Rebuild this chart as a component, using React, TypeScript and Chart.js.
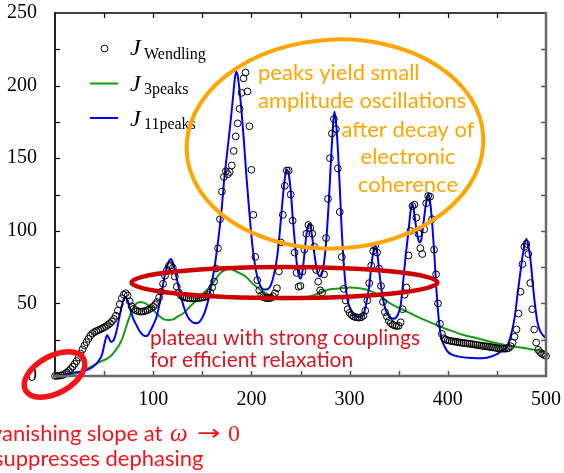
import { useEffect, useRef } from "react";
import { Chart, registerables } from "chart.js";

Chart.register(...registerables);

// ---------- axes ----------
const X_MIN = 0;
const X_MAX = 500;
const Y_MIN = 0;
const Y_MAX = 250;
const X_TICK_STEP = 50;
const X_LABEL_STEP = 100;
const Y_TICK_STEP = 25;
const Y_LABEL_STEP = 50;

// ---------- J_Wendling (open circles), sampled every 2 units from x = 0 ----------
const WENDLING_X_START = 0;
const WENDLING_X_STEP = 2;
const WENDLING_Y = [
  0, 0.1, 0.2, 0.4, 0.7, 1.4, 2.4, 3.5, 4.8, 6.4,
  8.3, 10.3, 12.8, 15.5, 18.3, 21, 23.3, 25.6, 27.7, 29.2,
  30.2, 30.9, 31.5, 32.1, 32.8, 33.5, 34.3, 35.2, 36.3, 37.6,
  39.3, 41.5, 45, 49.5, 53.5, 56, 57, 55.5, 51.5, 48,
  46.3, 45.3, 44.7, 44.4, 44.3, 44.5, 44.8, 45.3, 46, 46.8,
  47.8, 49.3, 51, 54, 58, 63.5, 69, 73, 75.8, 76.2,
  74.5, 68.5, 61.5, 57.5, 55.5, 54.6, 54.1, 53.8, 53.6, 53.5,
  53.5, 53.5, 53.6, 53.7, 53.8, 54, 54.3, 54.8, 55.7, 57.5,
  61, 65, 74, 88, 108, 127, 137, 141, 139, 140.5,
  145, 155, 165, 174, 184, 195, 205, 209, 196, 172,
  142, 111, 82, 66, 59, 55.5, 54.3, 53.8, 53.6, 53.6,
  53.8, 55, 57, 60.5, 72, 92, 111, 131, 141.5, 141.5,
  125, 107, 85, 71, 61.5, 62, 72, 87, 98, 104,
  102, 98, 89, 73, 65, 59, 57.5, 70, 95, 122,
  150, 167, 177, 170, 143, 113, 82, 60, 52, 46,
  43.5, 42, 41, 40.5, 40.3, 40.2, 40.5, 41.5, 45, 52,
  64, 76, 86, 89.5, 85, 74, 62, 51, 44, 41,
  38, 36.3, 35.3, 34.7, 34.4, 34.6, 37, 46, 56, 61,
  83, 100, 117, 118, 109, 98, 88, 84, 101, 119,
  124, 123.5, 108, 87, 70, 50, 36, 29, 26, 25,
  24.6, 24.3, 24, 23.8, 23.6, 23.4, 23.1, 22.9, 22.7, 22.6,
  22.4, 22.2, 22, 21.8, 21.6, 21.3, 21.1, 20.9, 20.7, 20.5,
  20.3, 20.1, 19.9, 19.7, 19.5, 19.2, 19, 18.9, 18.8, 18.8,
  18.9, 19.3, 20.5, 23, 27, 32, 43, 58, 77, 89,
  91, 84, 64, 46, 32, 23, 18, 16.4, 15.2, 14.5,
  13.8,
];

// ---------- J_3peaks (green line) ----------
const PEAKS3_X = [
  0, 15, 25, 35.6, 45, 56, 62, 68, 74.7, 78, 81.5, 86.6, 92, 96.8, 102, 107, 111,
  115.4, 120.5, 125, 130.7, 137, 144.3, 151, 158, 164, 168, 173, 178.3, 183, 188.5,
  195, 200, 205, 210, 216, 224, 232, 240, 249.6, 258, 265, 271.7, 280, 290, 300, 310,
  320, 330, 341.3, 350, 361.7, 375, 388.8, 400, 416, 430, 450, 465, 480.5, 500,
];
const PEAKS3_Y = [
  0, 0.7, 2.5, 6, 9.5, 13.3, 18, 24.8, 38.5, 44.5, 49, 51, 50, 47.7, 44, 40.8, 39,
  38.5, 39, 41, 43.2, 47.5, 52.3, 57, 61.5, 67, 70.7, 73, 73.8, 72.5, 70.7,
  68, 64.5, 61.5, 59, 56.5, 53.5, 52.8, 53, 53, 54.5, 56, 58, 59.8, 60.3, 61, 60.5,
  59, 55.5, 50, 47, 43.2, 39, 35.1, 32, 28.2, 26, 22.5, 20.5, 19, 16.7,
];

// ---------- J_11peaks (blue line) ----------
const PEAKS11_X = [
  0, 10, 20, 30, 38, 44, 48, 51, 53, 55, 57, 60, 63, 66, 69, 71.5, 74, 77, 80, 83,
  87, 90, 93.5, 97, 100, 104, 107, 110, 113, 116, 118, 120, 123, 127, 131, 135, 140,
  144, 148, 152, 156, 159, 162, 165, 168, 170, 172, 175, 178, 181, 183, 184.5, 186,
  188, 190, 192, 195, 198, 201, 204, 207, 210, 213, 217, 220, 223, 226, 229, 232,
  234, 236, 238, 240, 242, 244, 246, 248, 250, 252, 254, 256, 258, 259.5, 261, 263,
  265, 267, 270, 272, 275, 277, 279, 281, 283, 284.5, 286, 288, 290, 292, 294, 296,
  298, 300, 303, 306, 310, 314, 317, 320, 322, 324, 326, 328, 330, 332, 334, 337,
  341, 345, 349, 352, 355, 357, 360, 362, 363.5, 365, 367, 369, 371, 373, 375, 377,
  379, 380.5, 382, 384, 386, 388, 390, 392, 394, 397, 400, 405, 410, 420, 430, 440,
  450, 455, 460, 465, 468, 471, 474, 477, 480, 483, 485, 487, 489, 491, 494, 497, 500,
];
const PEAKS11_Y = [
  0, 1, 2.5, 3.5, 6, 10, 15, 24, 28, 26, 23.5, 25, 32, 42, 51, 54.6, 52, 45, 39, 35,
  30, 28, 27.5, 31, 35, 42, 52, 63, 73, 79, 80.5, 78, 70, 58, 48, 41, 37,
  36.3, 38, 43, 52, 62, 73, 87, 104, 117, 133, 152, 170, 190, 204, 209.5, 207,
  196, 182, 165, 137, 112, 90, 75, 66, 61, 59.5, 60, 63, 70, 81, 100, 123,
  136, 142, 139, 128, 110, 94, 79, 70, 67, 72, 84, 97, 104, 105, 100, 90,
  80, 72, 68.5, 71, 84, 100, 122, 148, 171, 182, 176, 157, 130, 100, 78, 62,
  52, 47.5, 43, 41, 40.5, 42, 50, 62, 75, 85, 90, 86, 73, 62, 53, 45,
  40.5, 39.5, 42, 49, 68, 82, 100, 113, 118.5, 116, 106, 97, 92, 94, 104, 115,
  123, 125, 120, 106, 87, 64, 45, 32, 25, 20, 16.7, 14.5, 13.5, 12.5, 12.2, 12.6,
  15, 17.5, 20, 30, 40, 56, 72, 86, 94.5, 86, 75, 60, 48, 38, 31, 28, 26,
];

// ---------- texts ----------
const LEGEND_MAIN = ["J", "J", "J"];
const LEGEND_SUBS = ["Wendling", "3peaks", "11peaks"];
const ORANGE_NOTE_A = ["peaks yield small", "amplitude oscillations"];
const ORANGE_NOTE_B = ["after decay of", "electronic", "coherence"];
const PLATEAU_NOTE = ["plateau with strong couplings", "for efficient relaxation"];
const SLOPE_NOTE_1 = ["vanishing slope at", "\u03c9", "\u2192", "0"];
const SLOPE_NOTE_2 = "suppresses dephasing";

const COL_GREEN = "#169a16";
const COL_BLUE = "#0000ff";
const COL_ORANGE = "#ffa500";
const COL_RED_DARK = "#cc0000";
const COL_RED_TEXT = "#da1420";
const COL_RED_BRIGHT = "#f5141a";

const SERIF = '"Liberation Serif", "DejaVu Serif", serif';
const SANS = 'Lato, "Open Sans", sans-serif';

function ellipse(ctx: CanvasRenderingContext2D, cx: number, cy: number, rx: number, ry: number, rot: number, color: string, lw: number) {
  ctx.beginPath();
  ctx.ellipse(cx, cy, rx, ry, rot, 0, Math.PI * 2);
  ctx.strokeStyle = color;
  ctx.lineWidth = lw;
  ctx.stroke();
}

const decorPlugin = {
  id: "decor",
  afterDraw(chart: any) {
    const ctx: CanvasRenderingContext2D = chart.ctx;
    const a = chart.chartArea;
    const xs = chart.scales.x;
    const ys = chart.scales.y;
    ctx.save();

    // ticks inward
    const tl = 5;
    xs.ticks.forEach((t: any) => {
      if (t.value <= X_MIN || t.value >= X_MAX) return;
      const px = Math.round(xs.getPixelForValue(t.value)) + 0.5;
      ctx.beginPath();
      ctx.strokeStyle = "#000";
      ctx.lineWidth = 1.2;
      ctx.moveTo(px, a.top);
      ctx.lineTo(px, a.top + tl);
      ctx.stroke();
      ctx.beginPath();
      ctx.strokeStyle = "#555";
      ctx.lineWidth = 1.5;
      ctx.moveTo(px, a.bottom);
      ctx.lineTo(px, a.bottom - tl);
      ctx.stroke();
    });
    ys.ticks.forEach((t: any) => {
      if (t.value <= Y_MIN || t.value >= Y_MAX) return;
      const py = Math.round(ys.getPixelForValue(t.value)) + 0.5;
      ctx.beginPath();
      ctx.strokeStyle = "#000";
      ctx.lineWidth = 1.2;
      ctx.moveTo(a.left, py);
      ctx.lineTo(a.left + tl, py);
      ctx.stroke();
      ctx.beginPath();
      ctx.strokeStyle = "#555";
      ctx.lineWidth = 1.5;
      ctx.moveTo(a.right, py);
      ctx.lineTo(a.right - tl, py);
      ctx.stroke();
    });

    // frame
    ctx.lineCap = "square";
    ctx.beginPath();
    ctx.strokeStyle = "#000";
    ctx.lineWidth = 1.5;
    ctx.moveTo(a.left, a.top);
    ctx.lineTo(a.right, a.top);
    ctx.stroke();
    ctx.beginPath();
    ctx.strokeStyle = "#222";
    ctx.lineWidth = 2;
    ctx.moveTo(a.left, a.top);
    ctx.lineTo(a.left, a.bottom);
    ctx.stroke();
    ctx.beginPath();
    ctx.strokeStyle = "#6a6a6a";
    ctx.lineWidth = 2.5;
    ctx.moveTo(a.left, a.bottom);
    ctx.lineTo(a.right, a.bottom);
    ctx.moveTo(a.right, a.top);
    ctx.lineTo(a.right, a.bottom);
    ctx.stroke();
    ctx.lineCap = "butt";

    // legend
    const rows = [
      { y: 48.5, jBase: 55, sBase: 58.5 },
      { y: 83.5, jBase: 90.5, sBase: 93.5 },
      { y: 118, jBase: 125.5, sBase: 128.5 },
    ];
    rows.forEach((r, i) => {
      if (i === 0) {
        ctx.beginPath();
        ctx.arc(104.5, r.y, 3.4, 0, Math.PI * 2);
        ctx.strokeStyle = "#000";
        ctx.lineWidth = 1;
        ctx.stroke();
      } else {
        ctx.beginPath();
        ctx.moveTo(90, r.y);
        ctx.lineTo(118, r.y);
        ctx.strokeStyle = i === 1 ? COL_GREEN : COL_BLUE;
        ctx.lineWidth = 2;
        ctx.stroke();
      }
      ctx.fillStyle = "#000";
      ctx.textAlign = "left";
      ctx.textBaseline = "alphabetic";
      ctx.font = "italic 24px " + SERIF;
      ctx.fillText(LEGEND_MAIN[i], 130, r.jBase);
      ctx.font = "16px " + SERIF;
      ctx.fillText(LEGEND_SUBS[i], 144, r.sBase);
    });

    // orange ellipse + notes
    ellipse(ctx, 335, 144, 148.5, 104.5, -0.05, COL_ORANGE, 4);
    ctx.fillStyle = COL_ORANGE;
    ctx.font = "22px " + SANS;
    ctx.textAlign = "left";
    ORANGE_NOTE_A.forEach((s, i) => ctx.fillText(s, 258, 80 + i * 27.5));
    ctx.textAlign = "center";
    ORANGE_NOTE_B.forEach((s, i) => ctx.fillText(s, 408, 137 + i * 27.3));

    // plateau ellipse + note
    ellipse(ctx, 284.5, 282.5, 153, 15.5, 0, COL_RED_DARK, 4.5);
    ctx.fillStyle = COL_RED_TEXT;
    ctx.font = "21px " + SANS;
    ctx.textAlign = "left";
    PLATEAU_NOTE.forEach((s, i) => ctx.fillText(s, 150, 345 + i * 22));

    // small ellipse at origin + note
    ellipse(ctx, 54.5, 374.5, 33, 18.5, -0.5, COL_RED_BRIGHT, 5.5);
    ctx.fillStyle = COL_RED_BRIGHT;
    ctx.textAlign = "left";
    ctx.font = "22px " + SANS;
    ctx.fillText(SLOPE_NOTE_1[0], -9, 441);
    ctx.font = "italic 25px " + SERIF;
    ctx.fillText(SLOPE_NOTE_1[1], 170, 441);
    ctx.save();
    ctx.translate(197, 440);
    ctx.scale(1.35, 1);
    ctx.font = '21px "DejaVu Sans", sans-serif';
    ctx.fillText(SLOPE_NOTE_1[2], 0, 0);
    ctx.restore();
    ctx.font = "24px " + SERIF;
    ctx.fillText(SLOPE_NOTE_1[3], 228, 441);
    ctx.font = "22px " + SANS;
    ctx.fillText(SLOPE_NOTE_2, -6, 466);

    ctx.restore();
  },
};

export default function App() {
  const ref = useRef<HTMLCanvasElement | null>(null);

  useEffect(() => {
    if (!ref.current) return;
    const wendling = WENDLING_Y.map((v, i) => ({ x: WENDLING_X_START + i * WENDLING_X_STEP, y: v }));
    const p3 = PEAKS3_X.map((v, i) => ({ x: v, y: PEAKS3_Y[i] }));
    const p11 = PEAKS11_X.map((v, i) => ({ x: v, y: PEAKS11_Y[i] }));
    const tickFont = { family: SERIF, size: 20 };

    const chart = new Chart(ref.current, {
      type: "scatter",
      data: {
        datasets: [
          {
            label: "J_Wendling",
            data: wendling,
            showLine: false,
            pointStyle: "circle",
            pointRadius: 3.4,
            pointBorderWidth: 1,
            pointBorderColor: "#000",
            pointBackgroundColor: "rgba(0,0,0,0)",
            clip: false,
          } as any,
          {
            label: "J_11peaks",
            data: p11,
            showLine: true,
            pointRadius: 0,
            borderColor: COL_BLUE,
            borderWidth: 2,
            tension: 0.4,
            cubicInterpolationMode: "monotone",
          } as any,
          {
            label: "J_3peaks",
            data: p3,
            showLine: true,
            pointRadius: 0,
            borderColor: COL_GREEN,
            borderWidth: 2,
            tension: 0.4,
            cubicInterpolationMode: "monotone",
          } as any,
        ],
      },
      options: {
        animation: false,
        responsive: false,
        devicePixelRatio: 1,
        layout: { padding: { top: 13, right: 18, left: 0, bottom: 0 } },
        plugins: { legend: { display: false }, tooltip: { enabled: false } },
        scales: {
          x: {
            type: "linear",
            min: X_MIN,
            max: X_MAX,
            grid: { display: false, drawTicks: false },
            border: { display: false },
            ticks: {
              stepSize: X_TICK_STEP,
              autoSkip: false,
              maxRotation: 0,
              padding: 12,
              color: "#000",
              font: tickFont,
              callback: (v: any) => (Number(v) % X_LABEL_STEP === 0 && Number(v) !== X_MIN ? String(v) : ""),
            },
            afterFit: (s: any) => {
              s.height = 97;
              s.paddingLeft = 0;
              s.paddingRight = 0;
              s.paddingTop = 0;
              s.paddingBottom = 0;
            },
          },
          y: {
            type: "linear",
            min: Y_MIN,
            max: Y_MAX,
            grid: { display: false, drawTicks: false },
            border: { display: false },
            ticks: {
              stepSize: Y_TICK_STEP,
              autoSkip: false,
              padding: 18,
              color: "#000",
              font: tickFont,
              callback: (v: any) => (Number(v) % Y_LABEL_STEP === 0 ? String(v) : ""),
            },
            afterFit: (s: any) => {
              s.width = 55;
              s.paddingLeft = 0;
              s.paddingRight = 0;
              s.paddingTop = 0;
              s.paddingBottom = 0;
            },
          },
        },
      },
      plugins: [decorPlugin as any],
    });
    return () => chart.destroy();
  }, []);

  return (
    <div style={{ position: "absolute", left: 0, top: 0, width: 564, height: 473, background: "#fff" }}>
      <canvas ref={ref} width={564} height={473} style={{ display: "block" }} />
    </div>
  );
}
